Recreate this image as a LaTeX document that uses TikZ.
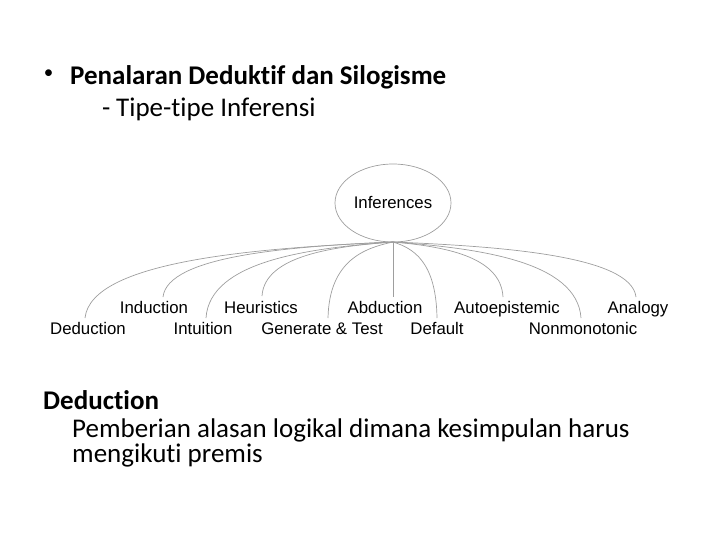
\documentclass[tikz,border=0pt]{standalone}
\usepackage{fontspec}
\setmainfont{Carlito}[Ligatures=NoCommon]
\newfontfamily\arialf{Liberation Sans}
\usetikzlibrary{shapes.geometric}
\begin{document}
\begin{tikzpicture}[x=1pt,y=-1pt,
  lbl/.style={font=\arialf\fontsize{16.8}{18}\selectfont, inner sep=0pt, anchor=base},
  link/.style={draw=black!38, line width=0.7pt},
  ttl/.style={font=\fontsize{27}{30}\selectfont, inner sep=0pt, anchor=base west}]
\useasboundingbox (0,0) rectangle (720,540);
% Title
\node[font=\fontsize{19}{19}\selectfont, inner sep=0pt] (bul) at (48.5,74) {\textbullet};
\node[ttl] (t1) at (70,85) {\bfseries Penalaran Deduktif dan Silogisme};
\node[ttl] (dash) at (102,117) {-};
\node[ttl] (t2) at (116,117) {Tipe-tipe Inferensi};
% Bottom text
\node[ttl] (d1) at (43,409) {\bfseries Deduction};
\node[ttl] (d2) at (72,437) {Pemberian alasan logikal dimana kesimpulan harus};
\node[ttl] (d3) at (72,462) {mengikuti premis};
% Diagram
\node[ellipse, draw=black!38, line width=0.7pt, minimum width=116, minimum height=78, inner sep=0pt,
      font=\arialf\fontsize{16.8}{18}\selectfont] (inf) at (393,203) {Inferences};
\coordinate (root) at (393,242);
\node[lbl] (ded) at (88,334) {Deduction};
\node[lbl] (ind) at (154,313) {Induction};
\node[lbl] (int) at (203,334) {Intuition};
\node[lbl] (heu) at (261,313) {Heuristics};
\node[lbl] (gen) at (322,334) {Generate \& Test};
\node[lbl] (abd) at (385,313) {Abduction};
\node[lbl] (def) at (437,334) {Default};
\node[lbl] (aut) at (507,313) {Autoepistemic};
\node[lbl] (non) at (583,334) {Nonmonotonic};
\node[lbl] (ana) at (638,313) {Analogy};
\coordinate (eded) at (85,318);
\coordinate (eind) at (163,297);
\coordinate (eint) at (206,318);
\coordinate (eheu) at (262,296);
\coordinate (egen) at (328,318);
\coordinate (eabd) at (393,297);
\coordinate (edef) at (437,318);
\coordinate (eaut) at (503,297);
\coordinate (enon) at (581,318);
\coordinate (eana) at (636,297);
\draw[link] (root) .. controls (254.4,248.1) and (91.2,261) .. (eded);
\draw[link] (root) .. controls (289.5,246.4) and (167.6,255.8) .. (eind);
\draw[link] (root) .. controls (308.9,248.1) and (209.7,261) .. (eint);
\draw[link] (root) .. controls (334,246.3) and (264.6,255.5) .. (eheu);
\draw[link] (root) .. controls (363.8,248.1) and (329.3,261) .. (egen);
\draw[link] (inf.south) -- (eabd);
\draw[link] (root) .. controls (412.8,248.1) and (436.1,261) .. (edef);
\draw[link] (root) .. controls (442.5,246.4) and (500.8,255.8) .. (eaut);
\draw[link] (root) .. controls (477.6,248.1) and (577.2,261) .. (enon);
\draw[link] (root) .. controls (502.4,246.4) and (631.1,255.8) .. (eana);
\end{tikzpicture}
\end{document}
